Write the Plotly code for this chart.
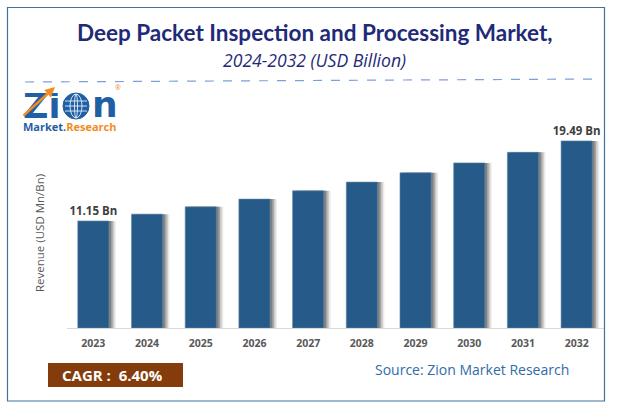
import plotly.graph_objects as go

years = ["2023","2024","2025","2026","2027","2028","2029","2030","2031","2032"]
revenue = [11.15,11.86,12.62,13.43,14.29,15.20,16.17,17.20,18.30,19.49]
bar_labels = ["11.15 Bn","","","","","","","","","19.49 Bn"]

W, H = 624, 411
def px(x): return x / W
def py(y): return 1 - y / H

fig = go.Figure()
for off, op in [(0.13, 0.10), (0.10, 0.18), (0.07, 0.28), (0.04, 0.35)]:
    fig.add_trace(go.Bar(x=years, y=revenue, width=0.58, offset=-0.29 + off,
                         marker=dict(color=f"rgba(60,60,60,{op})", line_width=0),
                         hoverinfo="skip", showlegend=False))
fig.add_trace(go.Bar(x=years, y=revenue, width=0.58, offset=-0.29,
                     marker=dict(color="#265a88", line=dict(color="#5f88ab", width=0.6)),
                     text=bar_labels, textposition="outside", cliponaxis=False, constraintext="none",
                     textfont=dict(family="Open Sans", size=11.5, color="#404040", weight="bold"),
                     showlegend=False))

def t(x, y, s, size, color, family="Open Sans", anchor="center", **kw):
    fig.add_annotation(xref="paper", yref="paper", x=px(x), y=py(y), text=s, showarrow=False,
                       font=dict(family=family, size=size, color=color), xanchor=anchor,
                       yanchor="middle", **kw)

t(315, 32, "<b>Deep Packet Inspection and Processing Market,</b>", 22.5, "#1f2a78", "Lato")
t(314, 60, "<i>2024-2032 (USD Billion)</i>", 17.6, "#1f2a78", "Open Sans")
t(39, 233, "Revenue (USD Mn/Bn)", 11.5, "#595959", textangle=-90)
t(373, 369, "Source: Zion Market Research", 14, "#2f6ca8", anchor="left")

fig.add_shape(type="rect", xref="paper", yref="paper", x0=px(7.5), x1=px(604.5), y0=py(401), y1=py(7.5),
              line=dict(color="#41719c", width=1.2), fillcolor="rgba(0,0,0,0)")
fig.add_shape(type="line", xref="paper", yref="paper", x0=px(25), x1=px(597), y0=py(82), y1=py(79),
              line=dict(color="#7f9fd8", width=1.2, dash="dash"))
fig.add_shape(type="rect", xref="paper", yref="paper", x0=px(48), x1=px(183), y0=py(387), y1=py(363),
              line_width=0, fillcolor="#843c0c")
t(112, 375, "<b>CAGR :  6.40%</b>", 15, "#ffffff")

# logo
LOGO_BLUE = "#1f5fa5"
t(21, 106, "<b>Zi</b>", 35, LOGO_BLUE, "DejaVu Sans", anchor="left", height=26)
fig.add_shape(type="circle", xref="paper", yref="paper", x0=px(63), x1=px(89), y0=py(119), y1=py(93),
              fillcolor=LOGO_BLUE, line=dict(color=LOGO_BLUE, width=1))
for a, b in [(70, 82), (74.5, 77.5)]:
    fig.add_shape(type="circle", xref="paper", yref="paper", x0=px(a), x1=px(b), y0=py(118), y1=py(94),
                  fillcolor="rgba(0,0,0,0)", line=dict(color="white", width=0.8))
for yy in [101, 106, 111]:
    fig.add_shape(type="line", xref="paper", yref="paper", x0=px(65), x1=px(87), y0=py(yy), y1=py(yy),
                  line=dict(color="white", width=0.8))
t(90, 104, "<b>n</b>", 36, LOGO_BLUE, "DejaVu Sans", anchor="left", height=26)
fig.add_annotation(xref="paper", yref="paper", axref="pixel", ayref="pixel",
                   x=px(55), y=py(87), ax=-33, ay=30, text="", showarrow=True,
                   arrowhead=2, arrowsize=0.8, arrowwidth=2.5, arrowcolor="#f28c1e")
t(118, 88, "®", 7, "#f28c1e")
t(21, 127, "<b>Market.<span style='color:#f28c1e'>Research</span></b>", 11, LOGO_BLUE, "Open Sans", anchor="left")

fig.update_layout(
    width=W, height=H, margin=dict(l=0, r=0, t=0, b=0),
    paper_bgcolor="white", plot_bgcolor="white", barmode="overlay", autosize=False,
    xaxis=dict(domain=[px(66.5), px(603.5)], anchor="y", type="category",
               showgrid=False, ticks="", showline=True, linecolor="#d9d9d9", linewidth=1,
               ticklabelstandoff=5,
               tickfont=dict(family="Open Sans", size=10.5, color="#595959", weight="bold")),
    yaxis=dict(domain=[py(328), py(120)], range=[0, 208/9.6], visible=False),
)
fig.write_html("out.html", post_script="document.body.style.margin='0';",
               config=dict(displayModeBar=False))
